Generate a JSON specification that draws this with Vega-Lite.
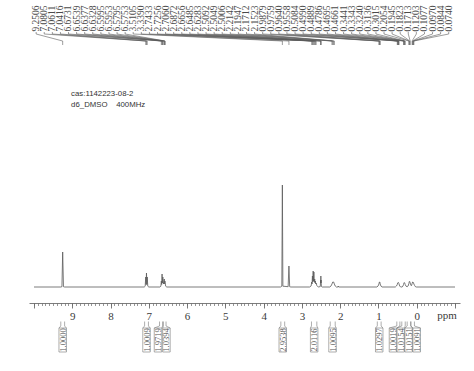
{
  "$schema": "https://vega.github.io/schema/vega-lite/v6.json",
  "width": 431,
  "height": 371,
  "autosize": {"type": "none"},
  "padding": {"left": 29, "right": 14, "top": 0, "bottom": 0},
  "background": "white",
  "config": {"view": {"stroke": null}},
  "datasets": {
    "spectrum": [
      {"ppm": 10, "intensity": 0}, {"ppm": 9.3, "intensity": 0}, {"ppm": 9.27, "intensity": 0.3}, {"ppm": 9.2506, "intensity": 35}, {"ppm": 9.23, "intensity": 0.3}, {"ppm": 9.2, "intensity": 0},
      {"ppm": 7.12, "intensity": 0}, {"ppm": 7.095, "intensity": 0.8}, {"ppm": 7.0805, "intensity": 10}, {"ppm": 7.071, "intensity": 2.5}, {"ppm": 7.0611, "intensity": 14}, {"ppm": 7.051, "intensity": 2.5}, {"ppm": 7.0416, "intensity": 10}, {"ppm": 7.027, "intensity": 0.8}, {"ppm": 7.0, "intensity": 0},
      {"ppm": 6.71, "intensity": 0}, {"ppm": 6.685, "intensity": 0.8}, {"ppm": 6.6731, "intensity": 6}, {"ppm": 6.664, "intensity": 2.5}, {"ppm": 6.6539, "intensity": 13}, {"ppm": 6.645, "intensity": 4}, {"ppm": 6.6377, "intensity": 9}, {"ppm": 6.6328, "intensity": 10}, {"ppm": 6.618, "intensity": 3}, {"ppm": 6.5995, "intensity": 7}, {"ppm": 6.5953, "intensity": 8}, {"ppm": 6.587, "intensity": 3}, {"ppm": 6.5795, "intensity": 6}, {"ppm": 6.5753, "intensity": 5}, {"ppm": 6.56, "intensity": 0.8}, {"ppm": 6.53, "intensity": 0},
      {"ppm": 3.56, "intensity": 0}, {"ppm": 3.525, "intensity": 0.8}, {"ppm": 3.5105, "intensity": 102}, {"ppm": 3.497, "intensity": 0.8}, {"ppm": 3.36, "intensity": 0.3}, {"ppm": 3.339, "intensity": 21}, {"ppm": 3.32, "intensity": 0.3}, {"ppm": 3.29, "intensity": 0},
      {"ppm": 2.8, "intensity": 0}, {"ppm": 2.76, "intensity": 1}, {"ppm": 2.7433, "intensity": 5}, {"ppm": 2.735, "intensity": 3}, {"ppm": 2.7256, "intensity": 11}, {"ppm": 2.716, "intensity": 5}, {"ppm": 2.706, "intensity": 16}, {"ppm": 2.697, "intensity": 6}, {"ppm": 2.6872, "intensity": 15}, {"ppm": 2.677, "intensity": 5}, {"ppm": 2.6656, "intensity": 8}, {"ppm": 2.657, "intensity": 4}, {"ppm": 2.6485, "intensity": 6}, {"ppm": 2.638, "intensity": 3}, {"ppm": 2.6283, "intensity": 4}, {"ppm": 2.61, "intensity": 1.5}, {"ppm": 2.59, "intensity": 0.5}, {"ppm": 2.56, "intensity": 0},
      {"ppm": 2.52, "intensity": 0.5}, {"ppm": 2.5092, "intensity": 7}, {"ppm": 2.5071, "intensity": 4}, {"ppm": 2.5049, "intensity": 11}, {"ppm": 2.5027, "intensity": 4}, {"ppm": 2.5006, "intensity": 7}, {"ppm": 2.49, "intensity": 0.5}, {"ppm": 2.47, "intensity": 0},
      {"ppm": 2.27, "intensity": 0}, {"ppm": 2.24, "intensity": 1}, {"ppm": 2.2142, "intensity": 3}, {"ppm": 2.1947, "intensity": 5}, {"ppm": 2.1712, "intensity": 5}, {"ppm": 2.1523, "intensity": 3}, {"ppm": 2.13, "intensity": 1}, {"ppm": 2.1, "intensity": 0},
      {"ppm": 2.06, "intensity": 0}, {"ppm": 2.05, "intensity": 1}, {"ppm": 2.04, "intensity": 0},
      {"ppm": 1.04, "intensity": 0}, {"ppm": 1.01, "intensity": 1}, {"ppm": 0.9879, "intensity": 3}, {"ppm": 0.9759, "intensity": 5}, {"ppm": 0.964, "intensity": 5}, {"ppm": 0.9558, "intensity": 3}, {"ppm": 0.935, "intensity": 1}, {"ppm": 0.91, "intensity": 0},
      {"ppm": 0.56, "intensity": 0}, {"ppm": 0.53, "intensity": 1}, {"ppm": 0.5084, "intensity": 2.5}, {"ppm": 0.499, "intensity": 4}, {"ppm": 0.4889, "intensity": 4.5}, {"ppm": 0.4786, "intensity": 4.5}, {"ppm": 0.4695, "intensity": 4}, {"ppm": 0.4661, "intensity": 3.5}, {"ppm": 0.445, "intensity": 1}, {"ppm": 0.42, "intensity": 0},
      {"ppm": 0.38, "intensity": 0}, {"ppm": 0.36, "intensity": 1}, {"ppm": 0.3441, "intensity": 2.5}, {"ppm": 0.3343, "intensity": 4}, {"ppm": 0.324, "intensity": 4.5}, {"ppm": 0.3136, "intensity": 4}, {"ppm": 0.3015, "intensity": 2.5}, {"ppm": 0.28, "intensity": 0.8}, {"ppm": 0.25, "intensity": 0.3},
      {"ppm": 0.225, "intensity": 1}, {"ppm": 0.2054, "intensity": 3.5}, {"ppm": 0.1945, "intensity": 5.5}, {"ppm": 0.1823, "intensity": 5.5}, {"ppm": 0.1713, "intensity": 4}, {"ppm": 0.15, "intensity": 1.5}, {"ppm": 0.135, "intensity": 1.5},
      {"ppm": 0.1203, "intensity": 3.5}, {"ppm": 0.1077, "intensity": 5}, {"ppm": 0.097, "intensity": 5}, {"ppm": 0.0844, "intensity": 4}, {"ppm": 0.074, "intensity": 3}, {"ppm": 0.055, "intensity": 1.5}, {"ppm": 0.04, "intensity": 0.5}, {"ppm": 0.01, "intensity": 0},
      {"ppm": -1, "intensity": 0}
    ],
    "peaks": [
      {"shift": 9.2506, "slot": 9.944}, {"shift": 7.0805, "slot": 9.733}, {"shift": 7.0611, "slot": 9.521}, {"shift": 7.0416, "slot": 9.31},
      {"shift": 6.6731, "slot": 9.099}, {"shift": 6.6539, "slot": 8.887}, {"shift": 6.6377, "slot": 8.676}, {"shift": 6.6328, "slot": 8.465},
      {"shift": 6.5995, "slot": 8.253}, {"shift": 6.5953, "slot": 8.042}, {"shift": 6.5795, "slot": 7.83}, {"shift": 6.5753, "slot": 7.619},
      {"shift": 3.5105, "slot": 7.408}, {"shift": 3.339, "slot": 7.196}, {"shift": 2.7433, "slot": 6.985}, {"shift": 2.7256, "slot": 6.773},
      {"shift": 2.706, "slot": 6.562}, {"shift": 2.6872, "slot": 6.351}, {"shift": 2.6656, "slot": 6.139}, {"shift": 2.6485, "slot": 5.928},
      {"shift": 2.6283, "slot": 5.717}, {"shift": 2.5092, "slot": 5.505}, {"shift": 2.5049, "slot": 5.294}, {"shift": 2.5006, "slot": 5.083},
      {"shift": 2.2142, "slot": 4.871}, {"shift": 2.1947, "slot": 4.66}, {"shift": 2.1712, "slot": 4.448}, {"shift": 2.1523, "slot": 4.237},
      {"shift": 0.9879, "slot": 4.026}, {"shift": 0.9759, "slot": 3.814}, {"shift": 0.964, "slot": 3.603}, {"shift": 0.9558, "slot": 3.392},
      {"shift": 0.5084, "slot": 3.18}, {"shift": 0.499, "slot": 2.969}, {"shift": 0.4889, "slot": 2.757}, {"shift": 0.4786, "slot": 2.546},
      {"shift": 0.4695, "slot": 2.335}, {"shift": 0.4661, "slot": 2.123}, {"shift": 0.3441, "slot": 1.912}, {"shift": 0.3343, "slot": 1.701},
      {"shift": 0.324, "slot": 1.489}, {"shift": 0.3136, "slot": 1.278}, {"shift": 0.3015, "slot": 1.066}, {"shift": 0.2054, "slot": 0.855},
      {"shift": 0.1945, "slot": 0.644}, {"shift": 0.1823, "slot": 0.432}, {"shift": 0.1713, "slot": 0.221}, {"shift": 0.1203, "slot": 0.01},
      {"shift": 0.1077, "slot": -0.202}, {"shift": 0.097, "slot": -0.413}, {"shift": 0.0844, "slot": -0.624}, {"shift": 0.074, "slot": -0.836}
    ],
    "integrals": [
      {"value": "1.0000", "label": 9.25, "from": 9.3, "to": 9.2},
      {"value": "1.0009", "label": 7.06, "from": 7.11, "to": 7.01},
      {"value": "1.9719", "label": 6.76, "from": 6.72, "to": 6.64},
      {"value": "1.0394", "label": 6.54, "from": 6.62, "to": 6.55},
      {"value": "2.9538", "label": 3.5, "from": 3.55, "to": 3.45},
      {"value": "2.0116", "label": 2.68, "from": 2.75, "to": 2.61},
      {"value": "1.0095", "label": 2.2, "from": 2.26, "to": 2.13},
      {"value": "1.0297", "label": 0.98, "from": 1.03, "to": 0.93},
      {"value": "1.0019", "label": 0.62, "from": 0.52, "to": 0.44},
      {"value": "1.0154", "label": 0.42, "from": 0.39, "to": 0.3},
      {"value": "1.0151", "label": 0.21, "from": 0.25, "to": 0.16},
      {"value": "1.0091", "label": 0.0, "from": 0.15, "to": 0.06}
    ],
    "notes": [
      {"x": 9.03, "y": 193, "text": "cas:1142223-08-2"},
      {"x": 9.03, "y": 182, "text": "d6_DMSO\u00a0\u00a0\u00a0\u00a0400MHz"}
    ],
    "unit": [
      {"x": -0.79, "y": -28.5, "text": "ppm"}
    ]
  },
  "resolve": {"axis": {"x": "independent"}},
  "layer": [
    {
      "data": {"name": "spectrum"},
      "mark": {"type": "line", "color": "#5a5a5a", "strokeWidth": 0.8},
      "encoding": {
        "x": {
          "field": "ppm", "type": "quantitative",
          "scale": {"domain": [-1, 10], "reverse": true, "nice": false, "zero": false},
          "axis": {
            "orient": "bottom", "offset": -68, "title": null, "grid": false,
            "values": [10, 9, 8, 7, 6, 5, 4, 3, 2, 1, 0, -1],
            "format": "d",
            "labelExpr": "datum.value == 10 || datum.value == -1 ? '' : datum.label",
            "tickSize": 5, "tickWidth": 0.8, "tickColor": "#5a5a5a",
            "domainColor": "#5a5a5a", "domainWidth": 0.8,
            "labelFont": "Liberation Serif", "labelFontSize": 11, "labelColor": "#3a3a3a",
            "labelPadding": 2, "labelFlush": false, "labelOverlap": false
          }
        },
        "y": {
          "field": "intensity", "type": "quantitative",
          "scale": {"domain": [-84, 287], "nice": false, "zero": false},
          "axis": null
        }
      }
    },
    {
      "data": {"name": "unit"},
      "mark": {"type": "text", "font": "Liberation Serif", "fontSize": 11, "color": "#3a3a3a", "align": "center", "baseline": "middle"},
      "encoding": {
        "x": {
          "field": "x", "type": "quantitative",
          "scale": {"domain": [-1, 10], "reverse": true, "nice": false, "zero": false},
          "axis": {
            "orient": "bottom", "offset": -68, "title": null, "grid": false, "labels": false, "domain": false,
            "tickSize": 2.5, "tickWidth": 0.7, "tickColor": "#6a6a6a",
            "values": [10, 9.9, 9.8, 9.7, 9.6, 9.5, 9.4, 9.3, 9.2, 9.1, 9, 8.9, 8.8, 8.7, 8.6, 8.5, 8.4, 8.3, 8.2, 8.1, 8, 7.9, 7.8, 7.7, 7.6, 7.5, 7.4, 7.3, 7.2, 7.1, 7, 6.9, 6.8, 6.7, 6.6, 6.5, 6.4, 6.3, 6.2, 6.1, 6, 5.9, 5.8, 5.7, 5.6, 5.5, 5.4, 5.3, 5.2, 5.1, 5, 4.9, 4.8, 4.7, 4.6, 4.5, 4.4, 4.3, 4.2, 4.1, 4, 3.9, 3.8, 3.7, 3.6, 3.5, 3.4, 3.3, 3.2, 3.1, 3, 2.9, 2.8, 2.7, 2.6, 2.5, 2.4, 2.3, 2.2, 2.1, 2, 1.9, 1.8, 1.7, 1.6, 1.5, 1.4, 1.3, 1.2, 1.1, 1, 0.9, 0.8, 0.7, 0.6, 0.5, 0.4, 0.3, 0.2, 0.1, 0, -0.1, -0.2, -0.3, -0.4, -0.5, -0.6, -0.7, -0.8, -0.9, -1]
          }
        },
        "y": {"field": "y", "type": "quantitative", "scale": {"domain": [-84, 287], "nice": false, "zero": false}, "axis": null},
        "text": {"field": "text"}
      }
    },
    {
      "data": {"name": "notes"},
      "mark": {"type": "text", "font": "Liberation Sans", "fontSize": 7.8, "color": "#333333", "align": "left", "baseline": "middle"},
      "encoding": {
        "x": {"field": "x", "type": "quantitative", "scale": {"domain": [-1, 10], "reverse": true, "nice": false, "zero": false}, "axis": null},
        "y": {"field": "y", "type": "quantitative", "scale": {"domain": [-84, 287], "nice": false, "zero": false}, "axis": null},
        "text": {"field": "text"}
      }
    },
    {
      "data": {"name": "peaks"},
      "mark": {"type": "text", "font": "Liberation Serif", "fontSize": 9.5, "color": "#4a4a4a", "angle": 270, "align": "left", "baseline": "middle"},
      "encoding": {
        "x": {"field": "slot", "type": "quantitative", "scale": {"domain": [-1, 10], "reverse": true, "nice": false, "zero": false}, "axis": null},
        "y": {"datum": 255.5, "type": "quantitative", "scale": {"domain": [-84, 287], "nice": false, "zero": false}, "axis": null},
        "text": {"field": "shift", "type": "quantitative", "format": ".4f"}
      }
    },
    {
      "data": {"name": "peaks"},
      "mark": {"type": "rule", "color": "#5a5a5a", "strokeWidth": 0.6},
      "encoding": {
        "x": {"field": "slot", "type": "quantitative", "scale": {"domain": [-1, 10], "reverse": true, "nice": false, "zero": false}, "axis": null},
        "y": {"datum": 255, "type": "quantitative", "scale": {"domain": [-84, 287], "nice": false, "zero": false}, "axis": null},
        "y2": {"datum": 253}
      }
    },
    {
      "data": {"name": "peaks"},
      "mark": {"type": "rule", "color": "#5a5a5a", "strokeWidth": 0.6},
      "encoding": {
        "x": {"field": "slot", "type": "quantitative", "scale": {"domain": [-1, 10], "reverse": true, "nice": false, "zero": false}, "axis": null},
        "x2": {"field": "shift"},
        "y": {"datum": 253, "type": "quantitative", "scale": {"domain": [-84, 287], "nice": false, "zero": false}, "axis": null},
        "y2": {"datum": 246}
      }
    },
    {
      "data": {"name": "peaks"},
      "mark": {"type": "rule", "color": "#5a5a5a", "strokeWidth": 0.6},
      "encoding": {
        "x": {"field": "shift", "type": "quantitative", "scale": {"domain": [-1, 10], "reverse": true, "nice": false, "zero": false}, "axis": null},
        "y": {"datum": 246, "type": "quantitative", "scale": {"domain": [-84, 287], "nice": false, "zero": false}, "axis": null},
        "y2": {"datum": 242}
      }
    },
    {
      "data": {"name": "integrals"},
      "mark": {"type": "bar", "width": 7.5, "filled": false, "color": "#777777", "strokeWidth": 0.6},
      "encoding": {
        "x": {"field": "label", "type": "quantitative", "scale": {"domain": [-1, 10], "reverse": true, "nice": false, "zero": false}, "axis": null},
        "y": {"datum": -41, "type": "quantitative", "scale": {"domain": [-84, 287], "nice": false, "zero": false}, "axis": null},
        "y2": {"datum": -65}
      }
    },
    {
      "data": {"name": "integrals"},
      "mark": {"type": "text", "font": "Liberation Serif", "fontSize": 8.5, "color": "#555555", "angle": 270, "align": "center", "baseline": "middle"},
      "encoding": {
        "x": {"field": "label", "type": "quantitative", "scale": {"domain": [-1, 10], "reverse": true, "nice": false, "zero": false}, "axis": null},
        "y": {"datum": -53, "type": "quantitative", "scale": {"domain": [-84, 287], "nice": false, "zero": false}, "axis": null},
        "text": {"field": "value"}
      }
    },
    {
      "data": {"name": "integrals"},
      "mark": {"type": "rule", "color": "#777777", "strokeWidth": 0.6},
      "encoding": {
        "x": {"field": "from", "type": "quantitative", "scale": {"domain": [-1, 10], "reverse": true, "nice": false, "zero": false}, "axis": null},
        "y": {"datum": -34.5, "type": "quantitative", "scale": {"domain": [-84, 287], "nice": false, "zero": false}, "axis": null},
        "y2": {"datum": -39}
      }
    },
    {
      "data": {"name": "integrals"},
      "mark": {"type": "rule", "color": "#777777", "strokeWidth": 0.6},
      "encoding": {
        "x": {"field": "to", "type": "quantitative", "scale": {"domain": [-1, 10], "reverse": true, "nice": false, "zero": false}, "axis": null},
        "y": {"datum": -34.5, "type": "quantitative", "scale": {"domain": [-84, 287], "nice": false, "zero": false}, "axis": null},
        "y2": {"datum": -39}
      }
    },
    {
      "data": {"name": "integrals"},
      "mark": {"type": "rule", "color": "#777777", "strokeWidth": 0.6, "x2Offset": -3.75},
      "encoding": {
        "x": {"field": "from", "type": "quantitative", "scale": {"domain": [-1, 10], "reverse": true, "nice": false, "zero": false}, "axis": null},
        "x2": {"field": "label"},
        "y": {"datum": -39, "type": "quantitative", "scale": {"domain": [-84, 287], "nice": false, "zero": false}, "axis": null},
        "y2": {"datum": -41}
      }
    },
    {
      "data": {"name": "integrals"},
      "mark": {"type": "rule", "color": "#777777", "strokeWidth": 0.6, "x2Offset": 3.75},
      "encoding": {
        "x": {"field": "to", "type": "quantitative", "scale": {"domain": [-1, 10], "reverse": true, "nice": false, "zero": false}, "axis": null},
        "x2": {"field": "label"},
        "y": {"datum": -39, "type": "quantitative", "scale": {"domain": [-84, 287], "nice": false, "zero": false}, "axis": null},
        "y2": {"datum": -41}
      }
    }
  ]
}
